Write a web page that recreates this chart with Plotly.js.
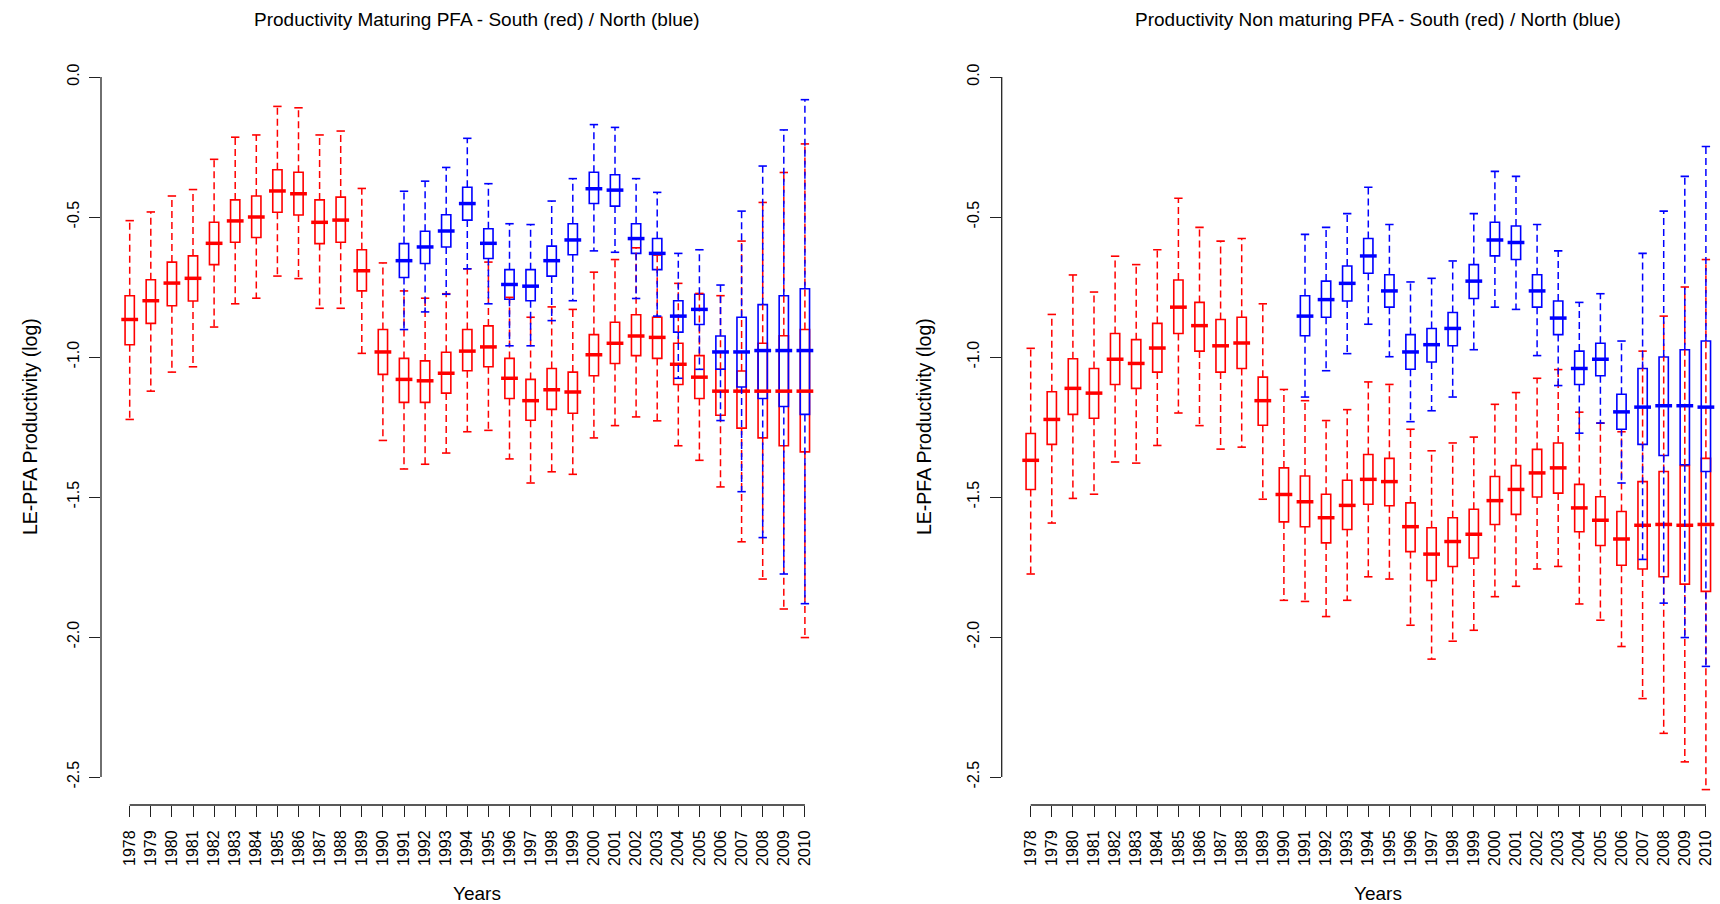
<!DOCTYPE html>
<html>
<head>
<meta charset="utf-8">
<script src="https://cdn.plot.ly/plotly-3.0.1.min.js"></script>
<style>html,body{margin:0;padding:0;background:#fff;}#chart{width:1720px;height:904px;}</style>
</head>
<body>
<div id="chart"></div>
<script>
// ---------------- DATA ----------------
const years = [1978,1979,1980,1981,1982,1983,1984,1985,1986,1987,1988,1989,1990,1991,1992,1993,1994,1995,1996,1997,1998,1999,2000,2001,2002,2003,2004,2005,2006,2007,2008,2009,2010];
const yearsNorth = [1991,1992,1993,1994,1995,1996,1997,1998,1999,2000,2001,2002,2003,2004,2005,2006,2007,2008,2009,2010];
const yTickVals = [0, -0.5, -1, -1.5, -2, -2.5];
const yTickText = ["0.0", "-0.5", "-1.0", "-1.5", "-2.0", "-2.5"];

// Maturing PFA - South (red)
const matSouthHi  = [-0.513,-0.482,-0.425,-0.402,-0.294,-0.215,-0.207,-0.105,-0.110,-0.207,-0.193,-0.398,-0.664,-0.764,-0.790,-0.774,-0.685,-0.661,-0.787,-0.858,-0.821,-0.830,-0.697,-0.652,-0.610,-0.636,-0.737,-0.773,-0.781,-0.586,-0.448,-0.341,-0.239];
const matSouthQ3  = [-0.781,-0.724,-0.661,-0.639,-0.519,-0.439,-0.425,-0.331,-0.340,-0.439,-0.429,-0.617,-0.902,-1.005,-1.014,-0.983,-0.902,-0.889,-1.005,-1.080,-1.041,-1.054,-0.920,-0.876,-0.849,-0.858,-0.951,-0.995,-1.044,-1.050,-0.951,-0.924,-0.902];
const matSouthMed = [-0.866,-0.799,-0.736,-0.719,-0.594,-0.514,-0.500,-0.407,-0.417,-0.519,-0.511,-0.692,-0.982,-1.080,-1.085,-1.058,-0.979,-0.964,-1.076,-1.156,-1.117,-1.125,-0.992,-0.951,-0.925,-0.930,-1.026,-1.072,-1.122,-1.122,-1.122,-1.122,-1.122];
const matSouthQ1  = [-0.956,-0.880,-0.817,-0.800,-0.670,-0.590,-0.573,-0.483,-0.493,-0.595,-0.590,-0.764,-1.062,-1.162,-1.162,-1.129,-1.049,-1.035,-1.148,-1.226,-1.187,-1.201,-1.067,-1.023,-0.995,-1.005,-1.098,-1.148,-1.208,-1.254,-1.289,-1.317,-1.339];
const matSouthLo  = [-1.223,-1.122,-1.054,-1.035,-0.893,-0.810,-0.790,-0.711,-0.720,-0.826,-0.826,-0.987,-1.298,-1.400,-1.383,-1.343,-1.267,-1.262,-1.364,-1.450,-1.410,-1.419,-1.289,-1.245,-1.214,-1.228,-1.317,-1.369,-1.464,-1.660,-1.793,-1.900,-2.002];

// Maturing PFA - North (blue)
const matNorthHi  = [-0.408,-0.372,-0.323,-0.219,-0.381,-0.524,-0.527,-0.443,-0.363,-0.170,-0.180,-0.363,-0.412,-0.630,-0.617,-0.743,-0.479,-0.318,-0.189,-0.081];
const matNorthQ3  = [-0.595,-0.551,-0.492,-0.394,-0.542,-0.688,-0.688,-0.604,-0.524,-0.340,-0.349,-0.524,-0.577,-0.799,-0.776,-0.925,-0.858,-0.813,-0.781,-0.756];
const matNorthMed = [-0.656,-0.607,-0.550,-0.452,-0.594,-0.741,-0.747,-0.656,-0.582,-0.399,-0.404,-0.577,-0.630,-0.854,-0.830,-0.982,-0.982,-0.977,-0.977,-0.977];
const matNorthQ1  = [-0.716,-0.666,-0.607,-0.511,-0.648,-0.794,-0.799,-0.711,-0.635,-0.452,-0.461,-0.630,-0.688,-0.911,-0.884,-1.044,-1.107,-1.148,-1.177,-1.205];
const matNorthLo  = [-0.902,-0.839,-0.776,-0.685,-0.810,-0.960,-0.960,-0.870,-0.799,-0.621,-0.626,-0.791,-0.854,-1.076,-1.044,-1.227,-1.481,-1.645,-1.775,-1.881];

// Non maturing PFA - South (red)
const nonSouthHi  = [-0.969,-0.848,-0.707,-0.768,-0.640,-0.670,-0.617,-0.433,-0.537,-0.586,-0.577,-0.810,-1.116,-1.156,-1.227,-1.188,-1.089,-1.098,-1.258,-1.335,-1.307,-1.286,-1.169,-1.127,-1.076,-1.045,-1.197,-1.236,-1.267,-0.979,-0.854,-0.750,-0.652];
const nonSouthQ3  = [-1.273,-1.124,-1.006,-1.041,-0.916,-0.938,-0.880,-0.725,-0.805,-0.866,-0.858,-1.072,-1.396,-1.425,-1.490,-1.440,-1.348,-1.362,-1.521,-1.610,-1.574,-1.544,-1.427,-1.388,-1.330,-1.307,-1.455,-1.499,-1.552,-1.445,-1.409,-1.388,-1.362];
const nonSouthMed = [-1.369,-1.223,-1.112,-1.129,-1.008,-1.023,-0.968,-0.822,-0.888,-0.960,-0.950,-1.156,-1.491,-1.517,-1.574,-1.530,-1.437,-1.445,-1.606,-1.704,-1.659,-1.633,-1.513,-1.473,-1.414,-1.396,-1.539,-1.583,-1.650,-1.601,-1.598,-1.601,-1.598];
const nonSouthQ1  = [-1.473,-1.312,-1.205,-1.219,-1.098,-1.112,-1.054,-0.916,-0.979,-1.054,-1.041,-1.244,-1.589,-1.606,-1.664,-1.616,-1.526,-1.531,-1.695,-1.798,-1.748,-1.718,-1.598,-1.562,-1.500,-1.486,-1.624,-1.673,-1.744,-1.757,-1.785,-1.811,-1.837];
const nonSouthLo  = [-1.775,-1.593,-1.505,-1.490,-1.375,-1.379,-1.316,-1.200,-1.245,-1.329,-1.322,-1.508,-1.869,-1.873,-1.927,-1.869,-1.785,-1.793,-1.958,-2.079,-2.015,-1.976,-1.856,-1.819,-1.757,-1.748,-1.882,-1.940,-2.034,-2.220,-2.344,-2.446,-2.545];

// Non maturing PFA - North (blue)
const nonNorthHi  = [-0.562,-0.537,-0.488,-0.394,-0.527,-0.732,-0.719,-0.657,-0.488,-0.337,-0.355,-0.527,-0.621,-0.805,-0.774,-0.943,-0.630,-0.479,-0.355,-0.248];
const nonNorthQ3  = [-0.781,-0.729,-0.675,-0.577,-0.706,-0.920,-0.898,-0.841,-0.670,-0.519,-0.532,-0.706,-0.800,-0.979,-0.951,-1.133,-1.041,-1.000,-0.974,-0.943];
const nonNorthMed = [-0.854,-0.795,-0.737,-0.639,-0.764,-0.982,-0.956,-0.898,-0.729,-0.582,-0.591,-0.764,-0.861,-1.041,-1.008,-1.196,-1.179,-1.174,-1.174,-1.179];
const nonNorthQ1  = [-0.924,-0.858,-0.800,-0.701,-0.822,-1.044,-1.018,-0.960,-0.791,-0.639,-0.652,-0.822,-0.920,-1.098,-1.067,-1.258,-1.312,-1.352,-1.385,-1.409];
const nonNorthLo  = [-1.143,-1.049,-0.988,-0.883,-0.999,-1.231,-1.192,-1.143,-0.974,-0.822,-0.830,-0.995,-1.102,-1.272,-1.236,-1.450,-1.723,-1.879,-2.002,-2.105];

const titleLeft = "Productivity Maturing PFA - South (red) / North (blue)";
const titleRight = "Productivity Non maturing PFA - South (red) / North (blue)";
const yLabel = "LE-PFA Productivity (log)";
const xLabel = "Years";

// ---------------- STYLE ----------------
const RED = "#FF0000", BLUE = "#0000FF";
const FONT = "Liberation Sans, Arial, Helvetica, sans-serif";
const W = 1720, H = 904;

function seriesTraces(xs, hi, q3, med, q1, lo, color, xa, ya) {
  const wx = [], wy = [];
  xs.forEach((x, i) => {
    wx.push(x, x, null, x, x, null);
    wy.push(q3[i], hi[i], null, q1[i], lo[i], null);
  });
  return [
    {type: "scatter", mode: "lines", x: wx, y: wy, xaxis: xa, yaxis: ya,
     line: {color: color, width: 1.5, dash: "7px,4px"}, hoverinfo: "skip", showlegend: false, connectgaps: false},
    {type: "box", x: xs, q1: q1, median: med, q3: q3, lowerfence: q1, upperfence: q3,
     width: 0.44, whiskerwidth: 0, boxpoints: false, xaxis: xa, yaxis: ya,
     line: {color: color, width: 1.6}, fillcolor: "rgba(0,0,0,0)", hoverinfo: "skip", showlegend: false},
    {type: "scatter", mode: "markers", x: xs.concat(xs), y: hi.concat(lo), xaxis: xa, yaxis: ya,
     marker: {symbol: "line-ew", size: 6, color: color, line: {color: color, width: 1.6}},
     hoverinfo: "skip", showlegend: false},
    {type: "scatter", mode: "markers", x: xs, y: med, xaxis: xa, yaxis: ya,
     marker: {symbol: "line-ew", size: 12, color: color, line: {color: color, width: 3.5}},
     hoverinfo: "skip", showlegend: false}
  ];
}

const data = [].concat(
  seriesTraces(years, matSouthHi, matSouthQ3, matSouthMed, matSouthQ1, matSouthLo, RED, "x", "y"),
  seriesTraces(yearsNorth, matNorthHi, matNorthQ3, matNorthMed, matNorthQ1, matNorthLo, BLUE, "x", "y"),
  seriesTraces(years, nonSouthHi, nonSouthQ3, nonSouthMed, nonSouthQ1, nonSouthLo, RED, "x2", "y2"),
  seriesTraces(yearsNorth, nonNorthHi, nonNorthQ3, nonNorthMed, nonNorthQ1, nonNorthLo, BLUE, "x2", "y2")
);

const yDomain = [1 - 805 / H, 1 - 49 / H];
const pxPerYear = 21.1;
function xAxis(domLeftPx, domRightPx, firstTickPx, anchor) {
  const right = Math.min(W, domRightPx);
  const r0 = years[0] - (firstTickPx - domLeftPx) / pxPerYear;
  const r1 = years[0] + (right - firstTickPx) / pxPerYear;
  return {
    domain: [domLeftPx / W, right / W], range: [r0, r1], anchor: anchor,
    tickvals: years, ticktext: years.map(String), tickangle: -90,
    ticks: "outside", ticklen: 11, tickwidth: 1, tickcolor: "#222",
    showline: false, zeroline: false, showgrid: false,
    tickfont: {family: FONT, size: 16, color: "#000"}, ticklabelstandoff: 7
  };
}
function yAxis(anchor) {
  return {
    domain: yDomain, range: [-2.6, 0.1], anchor: anchor,
    tickvals: yTickVals, ticktext: yTickText, tickangle: -90,
    ticks: "outside", ticklen: 11, tickwidth: 1, tickcolor: "#222",
    showline: false, zeroline: false, showgrid: false,
    tickfont: {family: FONT, size: 16, color: "#000"}, ticklabelstandoff: 4
  };
}

const yMin = Math.min.apply(null, yTickVals), yMax = Math.max.apply(null, yTickVals);
function axisLines(xr, yr) {
  return [
    {type: "line", xref: xr + " domain", yref: yr, x0: 0, x1: 0, y0: yMin, y1: yMax, line: {color: "#222", width: 1.3}},
    {type: "line", xref: xr, yref: yr + " domain", x0: years[0], x1: years[years.length - 1], y0: 0, y1: 0, line: {color: "#222", width: 1.3}}
  ];
}

function ann(text, px, py, size, angle) {
  return {text: text, xref: "paper", yref: "paper", x: px / W, y: 1 - py / H,
          xanchor: "center", yanchor: "middle", showarrow: false, textangle: angle || 0,
          font: {family: FONT, size: size, color: "#000"}};
}

const layout = {
  width: W, height: H, margin: {l: 0, r: 0, t: 0, b: 0},
  paper_bgcolor: "#fff", plot_bgcolor: "#fff", showlegend: false, boxmode: "overlay",
  xaxis: xAxis(101, 853, 129.7, "y"),
  yaxis: yAxis("x"),
  xaxis2: xAxis(1001.7, 1754, 1030.7, "y2"),
  yaxis2: yAxis("x2"),
  shapes: axisLines("x", "y").concat(axisLines("x2", "y2")),
  annotations: [
    ann(titleLeft, 477, 19, 19), ann(titleRight, 1378, 19, 19),
    ann(yLabel, 30, 427, 19.5, -90), ann(yLabel, 924, 427, 19.5, -90),
    ann(xLabel, 477, 893, 19), ann(xLabel, 1378, 893, 19)
  ]
};

Plotly.newPlot("chart", data, layout, {staticPlot: true, displayModeBar: false});
</script>
</body>
</html>
